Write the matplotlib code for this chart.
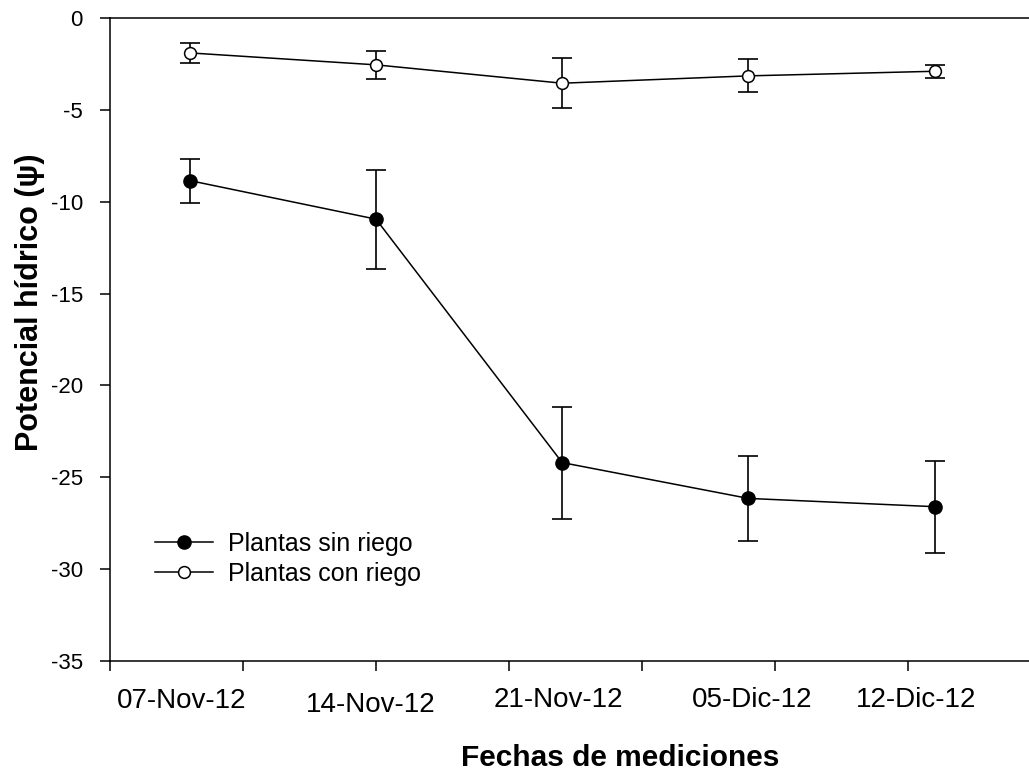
import numpy as np
import matplotlib
matplotlib.use("Agg")
import matplotlib.pyplot as plt

plt.rcParams["font.family"] = ["Liberation Sans", "DejaVu Sans"]
plt.rcParams["axes.unicode_minus"] = False

# data
fechas = ["07-Nov-12", "14-Nov-12", "21-Nov-12", "05-Dic-12", "12-Dic-12"]
sin_riego = [-8.85, -10.95, -24.2, -26.15, -26.6]
sin_riego_err = [1.2, 2.7, 3.05, 2.3, 2.5]
con_riego = [-1.9, -2.55, -3.55, -3.15, -2.9]
con_riego_err = [0.55, 0.75, 1.35, 0.9, 0.35]

# category positions on a 0..7 axis (points sit between ticks in the original)
x = 0.6 + 1.4 * np.arange(len(fechas))
# hand placed date labels (axis units, pixel baseline below the axis)
label_x = [0.54, 1.96, 3.37, 4.83, 6.06]
label_dy = [47, 51, 46, 46, 46]

W, H = 1029, 774
fig = plt.figure(figsize=(W / 100, H / 100), dpi=100)
ax = fig.add_axes([110 / W, 113 / H, 931 / W, 643 / H])

ax.errorbar(x, sin_riego, yerr=sin_riego_err, fmt="none", ecolor="black",
            elinewidth=1.2, capsize=7, capthick=1.2, zorder=2)
ax.errorbar(x, con_riego, yerr=con_riego_err, fmt="none", ecolor="black",
            elinewidth=1.2, capsize=7, capthick=1.2, zorder=2)
ax.plot(x, sin_riego, "-o", color="black", lw=1.1, ms=9.5, mfc="black",
        mec="black", label="Plantas sin riego", zorder=3)
ax.plot(x, con_riego, "-o", color="black", lw=1.1, ms=8.5, mfc="white",
        mec="black", mew=1.1, label="Plantas con riego", zorder=3)

ax.set_xlim(0, 7)
ax.set_ylim(-35, 0)
ax.set_xticks(np.arange(0, 8))
ax.set_xticklabels([])
ax.set_yticks(np.arange(-35, 1, 5))
ax.tick_params(axis="both", direction="out", length=7.5, width=1.1,
               labelsize=16, pad=12)
for s in ["left", "bottom", "top"]:
    ax.spines[s].set_linewidth(1.1)
ax.spines["right"].set_visible(False)

for lx, dy, lab in zip(label_x, label_dy, fechas):
    ax.annotate(lab, xy=(lx, 0), xycoords=("data", "axes fraction"),
                xytext=(0, -dy), textcoords="offset pixels",
                ha="center", va="baseline", fontsize=20)

fig.text(30 / W, 1 - 302 / H, "Potencial hídrico (ψ)", fontsize=22,
         fontweight="bold", rotation=90, ha="center", va="center")
fig.text(620 / W, 1 - 766 / H, "Fechas de mediciones", fontsize=21.5,
         fontweight="bold", ha="center", va="baseline")

ax.legend(loc="upper left", bbox_to_anchor=(45 / 931, (661 - 532) / 643),
          frameon=False, fontsize=18, handlelength=2.3, handletextpad=0.6,
          labelspacing=0.22, borderpad=0, borderaxespad=0)

fig.savefig("out.png", dpi=100)
